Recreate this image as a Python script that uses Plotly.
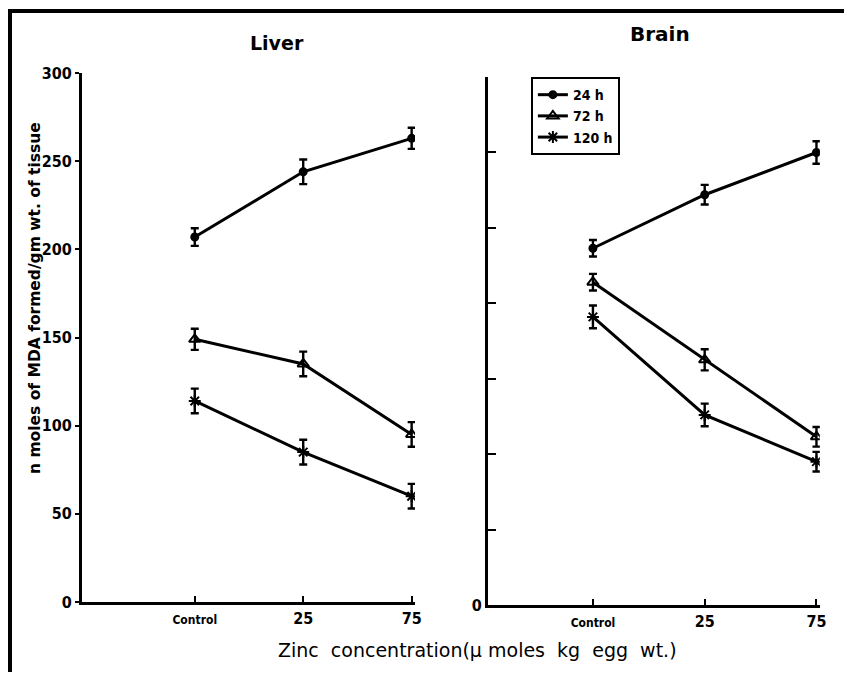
import plotly.graph_objects as go

# ---- data ----
categories = ["Control", "25", "75"]
cat_pos = [1, 2, 3]
series_names = ["24 h", "72 h", "120 h"]

liver_24 = [207, 244, 263]
liver_24_err = [5, 7, 6]
liver_72 = [149, 135, 95]
liver_72_err = [6, 7, 7]
liver_120 = [114, 85, 60]
liver_120_err = [7, 7, 7]

brain_24 = [47.3, 54.4, 60.0]
brain_24_err = [1.1, 1.3, 1.5]
brain_72 = [42.8, 32.5, 22.3]
brain_72_err = [1.1, 1.4, 1.3]
brain_120 = [38.2, 25.2, 19.0]
brain_120_err = [1.5, 1.5, 1.3]

liver_yticks = [0, 50, 100, 150, 200, 250, 300]
brain_yticks = [0, 10, 20, 30, 40, 50, 60, 70]

W, H = 851, 682
FONT = "DejaVu Sans Condensed, DejaVu Sans"
FONT2 = "DejaVu Sans"

# empirical correction between page pixels and the photographed picture
SX, SY, BY = 0.992, 0.9724, 8.9

symbols = ["circle", "triangle-up-open", "asterisk-open"]
sizes = [7, 10, 10]

fig = go.Figure()

liver = [(liver_24, liver_24_err), (liver_72, liver_72_err), (liver_120, liver_120_err)]
brain = [(brain_24, brain_24_err), (brain_72, brain_72_err), (brain_120, brain_120_err)]

for panel, (xa, ya, show) in zip([liver, brain], [("x", "y", False), ("x2", "y2", True)]):
    for i, (vals, errs) in enumerate(panel):
        fig.add_trace(go.Scatter(
            x=cat_pos, y=vals, xaxis=xa, yaxis=ya,
            mode="lines+markers", name=series_names[i],
            legendgroup=series_names[i], showlegend=show,
            line=dict(color="black", width=3),
            marker=dict(symbol=symbols[i], size=sizes[i], color="black",
                        line=dict(color="black", width=2)),
            error_y=dict(type="data", array=errs, visible=True,
                         color="black", thickness=2.4, width=4),
        ))

def px_x(p):
    return (p / SX) / W

def px_y(p):
    return (H - (p - BY) / SY) / H

tickfont = dict(family=FONT, size=16, color="black", weight="bold")
ctrl_text = ["<span style='font-size:12px'>Control</span>", "25", "75"]

fig.update_layout(
    width=W, height=H,
    margin=dict(l=0, r=0, t=0, b=0),
    paper_bgcolor="white", plot_bgcolor="white",
    font=dict(family=FONT, color="black"),
    xaxis=dict(domain=[px_x(82), px_x(415)], range=[-0.04, 3.03],
               tickvals=cat_pos, ticktext=ctrl_text, ticks="inside", ticklen=6,
               tickwidth=2, tickcolor="black", showline=True, linecolor="black",
               linewidth=3, showgrid=False, zeroline=False, tickfont=tickfont,
               anchor="y"),
    yaxis=dict(domain=[px_y(602), px_y(73)], range=[0, 300],
               tickvals=liver_yticks, ticks="outside", ticklen=4, tickwidth=2,
               tickcolor="black", showline=True, linecolor="black", linewidth=3,
               showgrid=False, zeroline=False, tickfont=tickfont, anchor="x"),
    xaxis2=dict(domain=[px_x(488), px_x(820)], range=[0.06, 3.03],
                tickvals=cat_pos, ticktext=ctrl_text, ticks="inside", ticklen=6,
                tickwidth=2, tickcolor="black", showline=True, linecolor="black",
                linewidth=3, showgrid=False, zeroline=False, tickfont=tickfont,
                anchor="y2"),
    yaxis2=dict(domain=[px_y(605), px_y(77)], range=[0, 70],
                tickvals=brain_yticks, ticktext=["0"] + [""] * 7,
                ticks="inside", ticklen=8, tickwidth=2, tickcolor="black",
                showline=True, linecolor="black", linewidth=3, showgrid=False,
                zeroline=False, tickfont=tickfont, anchor="x2"),
    legend=dict(x=px_x(531), y=px_y(77), xanchor="left", yanchor="top",
                bordercolor="black", borderwidth=2, bgcolor="white",
                font=dict(family=FONT, size=14, color="black", weight="bold"),
                tracegroupgap=0, itemwidth=30),
    showlegend=True,
)

annotations = [
    dict(text="<b>Liver</b>", x=px_x(277), y=px_y(43), xref="paper", yref="paper",
         xanchor="center", yanchor="middle",
         showarrow=False, font=dict(family=FONT2, size=19, color="black")),
    dict(text="<b>Brain</b>", x=px_x(660), y=px_y(34), xref="paper", yref="paper",
         xanchor="center", yanchor="middle",
         showarrow=False, font=dict(family=FONT2, size=20, color="black")),
    dict(text="<b>n moles of MDA formed/gm wt. of tissue</b>", x=px_x(35), y=px_y(298),
         xref="paper", yref="paper", showarrow=False, textangle=-90,
         xanchor="center", yanchor="middle",
         font=dict(family=FONT2, size=15.5, color="black")),
    dict(text="Zinc  concentration(\u03bc moles  kg  egg  wt.)", x=px_x(478), y=px_y(650),
         xref="paper", yref="paper", showarrow=False,
         xanchor="center", yanchor="middle",
         font=dict(family=FONT2, size=19, color="black")),
]
fig.update_layout(annotations=annotations)

# outer frame (top and left edges only)
fig.add_shape(type="line", xref="paper", yref="paper", x0=px_x(8), x1=1.0,
              y0=px_y(11), y1=px_y(11), line=dict(color="black", width=4))
fig.add_shape(type="line", xref="paper", yref="paper", x0=px_x(10), x1=px_x(10),
              y0=px_y(9), y1=0, line=dict(color="black", width=4))

# pin the figure to the page's top-left corner (no body margin / scrolling)
post_js = """
document.documentElement.style.margin = '0';
document.documentElement.style.overflow = 'hidden';
document.body.style.margin = '0';
document.body.style.overflow = 'hidden';
var gd = document.getElementById('{plot_id}');
gd.style.position = 'fixed';
gd.style.left = '0px';
gd.style.top = '0px';
"""

fig.write_html("out.html", post_script=post_js, config={"displayModeBar": False})
